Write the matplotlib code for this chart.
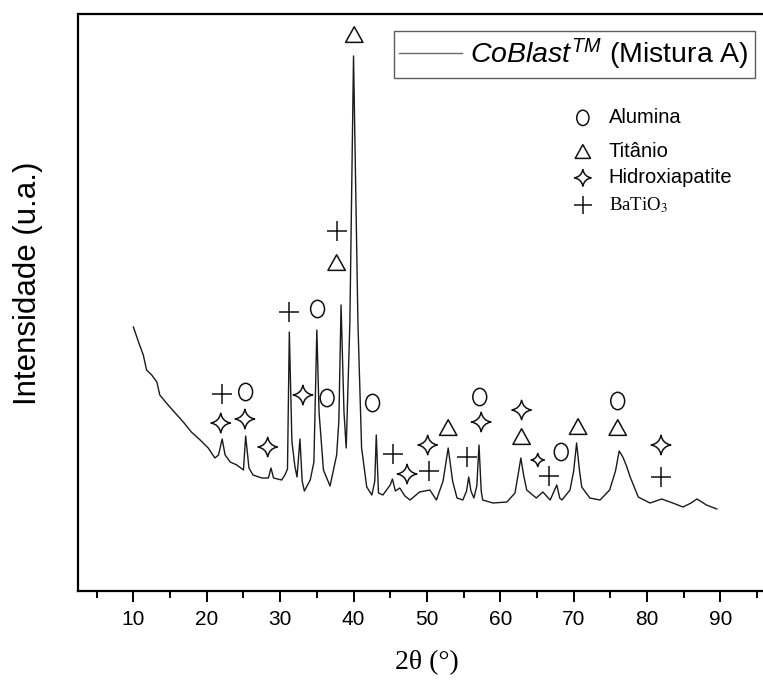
import matplotlib
matplotlib.use('Agg')
import matplotlib.pyplot as plt
from matplotlib.path import Path
from matplotlib.transforms import Affine2D
from matplotlib.lines import Line2D

plt.rcParams['font.family'] = ['Liberation Sans', 'DejaVu Sans']
plt.rcParams['mathtext.fontset'] = 'custom'
plt.rcParams['mathtext.rm'] = 'Liberation Sans'
plt.rcParams['mathtext.it'] = 'Liberation Sans:italic'

# difratograma (2theta em graus, intensidade em u.a.)
dois_theta = [10.0, 10.7, 11.35, 11.8, 12.5, 13.2, 13.6, 14.5, 15.7, 16.8, 17.9, 19.1,
              20.2, 21.1, 21.6, 22.1, 22.5, 23.2, 24.1, 25.0, 25.3, 25.75, 26.3, 27.5,
              28.4, 28.75, 29.1, 30.2, 30.65, 31.0,
              31.25, 31.6, 32.0, 32.3, 32.7, 33.0, 33.3, 34.1, 34.6, 35.0, 35.3, 35.6,
              35.9, 36.8, 37.7, 38.0, 38.3, 38.7, 39.0, 39.5, 40.0, 40.6, 41.1, 41.8,
              42.5, 42.9, 43.1, 43.4, 44.0, 45.0, 45.3, 45.7, 46.3, 47.0, 47.7, 49.0,
              50.4, 51.3, 52.2, 52.9, 53.5, 54.1, 54.9, 55.4, 55.7, 56.0, 56.4, 56.8,
              57.1, 57.4, 57.6, 59.0, 60.9, 62.0, 62.4, 62.8, 63.2, 63.6, 64.9, 65.8,
              66.8, 67.7, 68.1, 68.4, 69.5, 70.0, 70.4, 70.8, 71.1, 72.2, 73.6, 74.9,
              75.7, 76.2, 76.7, 77.2, 77.7, 78.8, 80.4, 82.0, 83.5, 84.9, 86.0, 86.8,
              88.1, 89.5]
intensidade = [264, 249, 236, 221, 216, 209, 196, 188, 178, 169, 159, 151,
               143, 133, 136, 152, 136, 129, 126, 121, 155, 123, 116, 113,
               113, 123, 113, 111, 116, 122,
               259, 150, 125, 114, 152, 110, 100, 111, 129, 261, 179, 150,
               121, 105, 136, 170, 286, 179, 143, 268, 535, 268, 143, 104,
               96, 110, 156, 98, 96, 106, 112, 100, 103, 95, 91, 99,
               101, 91, 110, 143, 110, 93, 91, 100, 114, 100, 93, 105,
               146, 100, 91, 88, 89, 98, 115, 133, 115, 101, 93, 99,
               91, 106, 93, 91, 101, 120, 148, 120, 104, 93, 91, 101,
               120, 140, 134, 125, 114, 94, 88, 92, 88, 84, 88, 92,
               86, 82]

# identificacao das fases (posicao dos simbolos)
alumina_x = [25.3, 35.1, 36.4, 42.6, 57.2, 68.3, 76.0]
alumina_y = [199, 282, 193, 188, 194, 139, 190]
titanio_x = [40.1, 37.7, 52.9, 62.9, 70.6, 76.0]
titanio_y = [556, 328, 163, 154, 164, 163]
hidroxi_x = [21.9, 25.2, 28.3, 33.1, 47.3, 50.1, 57.4, 62.9, 81.9]
hidroxi_y = [168, 172, 144, 196, 117, 146, 169, 181, 146]
hidroxi_peq_x = [65.1]
hidroxi_peq_y = [131]
batio3_x = [22.1, 31.2, 37.7, 45.4, 50.3, 55.4, 66.6, 81.9]
batio3_y = [197, 279, 360, 137, 120, 134, 115, 114]

fases = ['Alumina', 'Titânio', 'Hidroxiapatite', r'BaTiO$_3$']

# marcadores
circulo = Path.unit_circle().transformed(Affine2D().scale(0.8, 1.0))
triangulo = Path([(-1, -0.85), (1, -0.85), (0, 0.95), (-1, -0.85)], closed=True)
c = 0.16
estrela = Path([(0, 1), (c, c), (1, 0), (c, -c), (0, -1), (-c, -c), (-1, 0), (-c, c), (0, 1), (0, 1)],
               [Path.MOVETO, Path.CURVE3, Path.CURVE3, Path.CURVE3, Path.CURVE3,
                Path.CURVE3, Path.CURVE3, Path.CURVE3, Path.CURVE3, Path.CLOSEPOLY])

fig = plt.figure(figsize=(7.63, 6.83), dpi=100)
ax = fig.add_axes([0.1022, 0.1347, 0.8978, 0.8448])

ax.plot(dois_theta, intensidade, color='#1a1a1a', lw=1.0)

kw = dict(facecolors='none', edgecolors='#111111', linewidths=1.1, zorder=3)
ax.scatter(alumina_x, alumina_y, marker=circulo, s=12.5 ** 2, **kw)
ax.scatter(titanio_x, titanio_y, marker=triangulo, s=12.5 ** 2, **kw)
ax.scatter(hidroxi_x, hidroxi_y, marker=estrela, s=14 ** 2, **kw)
ax.scatter(hidroxi_peq_x, hidroxi_peq_y, marker=estrela, s=9.5 ** 2, **kw)
ax.scatter(batio3_x, batio3_y, marker='+', s=14 ** 2, c='#111111', linewidths=1.1, zorder=3)

# legenda das fases
leg_y = [0.820, 0.761, 0.716, 0.669]
tr = ax.transAxes
ax.scatter([0.737], [leg_y[0]], marker=circulo, s=11 ** 2, transform=tr, **kw)
ax.scatter([0.737], [leg_y[1]], marker=triangulo, s=11 ** 2, transform=tr, **kw)
ax.scatter([0.737], [leg_y[2]], marker=estrela, s=12 ** 2, transform=tr, **kw)
ax.scatter([0.737], [leg_y[3]], marker='+', s=12.5 ** 2, c='#111111', linewidths=1.1,
           transform=tr, zorder=3)
for i, nome in enumerate(fases):
    if i == 3:
        ax.text(0.775, leg_y[i], nome, transform=tr, fontsize=13.5, va='center',
                family='Liberation Serif', math_fontfamily='stix')
    else:
        ax.text(0.775, leg_y[i], nome, transform=tr, fontsize=14.5, va='center')

# legenda da amostra
h = Line2D([], [], color='#666666', lw=1.0)
leg = ax.legend([h], [r'$\it{CoBlast}^{\it{TM}}$ (Mistura A)'], loc='upper right',
                bbox_to_anchor=(0.988, 0.9705), fontsize=20.5, frameon=True, fancybox=False,
                handlelength=2.2, handletextpad=0.3, borderpad=0.2, borderaxespad=0)
leg.get_frame().set_edgecolor('#333333')
leg.get_frame().set_linewidth(1.0)

ax.set_xlim(2.45, 95.8)
ax.set_ylim(0, 577)
ax.set_xticks(range(10, 100, 10))
ax.set_xticks(range(5, 100, 10), minor=True)
ax.tick_params(axis='x', which='major', direction='out', length=8, width=1.4,
               labelsize=15, pad=6)
ax.tick_params(axis='x', which='minor', direction='out', length=5, width=1.4)
ax.set_yticks([])
ax.spines['right'].set_visible(False)
for s in ['left', 'bottom', 'top']:
    ax.spines[s].set_linewidth(1.6)

fig.text(28 / 763, 1 - 283 / 683, 'Intensidade (u.a.)', rotation=90, fontsize=22.5,
         ha='center', va='center')
fig.text(427 / 763, 1 - 663 / 683, '2θ (°)', fontsize=20, ha='center', va='center',
         family='Liberation Serif')

fig.savefig('out.png', dpi=100)
